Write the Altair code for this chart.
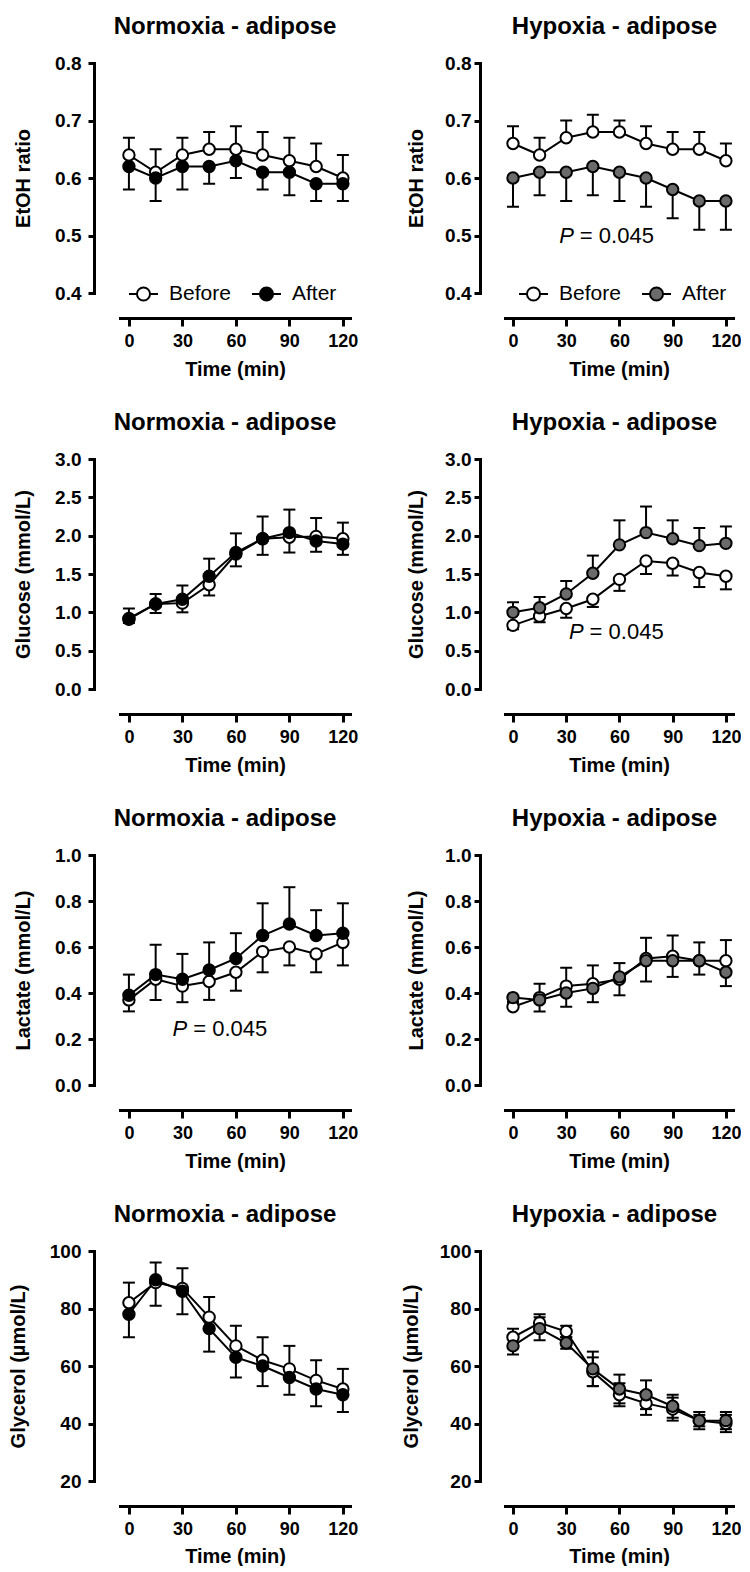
import altair as alt
import pandas as pd

TIME = [0, 15, 30, 45, 60, 75, 90, 105, 120]
X_TICKS = [0, 30, 60, 90, 120]

# ---- EtOH ratio ----
etoh_norm_before = [0.64, 0.61, 0.64, 0.65, 0.65, 0.64, 0.63, 0.62, 0.60]
etoh_norm_before_sem = [0.03, 0.04, 0.03, 0.03, 0.04, 0.04, 0.04, 0.04, 0.04]
etoh_norm_after = [0.62, 0.60, 0.62, 0.62, 0.63, 0.61, 0.61, 0.59, 0.59]
etoh_norm_after_sem = [0.04, 0.04, 0.04, 0.03, 0.03, 0.03, 0.04, 0.03, 0.03]

etoh_hyp_before = [0.66, 0.64, 0.67, 0.68, 0.68, 0.66, 0.65, 0.65, 0.63]
etoh_hyp_before_sem = [0.03, 0.03, 0.03, 0.03, 0.02, 0.03, 0.03, 0.03, 0.03]
etoh_hyp_after = [0.60, 0.61, 0.61, 0.62, 0.61, 0.60, 0.58, 0.56, 0.56]
etoh_hyp_after_sem = [0.05, 0.04, 0.05, 0.05, 0.05, 0.05, 0.05, 0.05, 0.05]

# ---- Glucose (mmol/L) ----
glu_norm_before = [0.91, 1.11, 1.12, 1.36, 1.76, 1.96, 1.98, 1.99, 1.96]
glu_norm_before_sem = [0.05, 0.12, 0.12, 0.14, 0.16, 0.21, 0.20, 0.20, 0.21]
glu_norm_after = [0.92, 1.11, 1.17, 1.47, 1.78, 1.96, 2.04, 1.93, 1.89]
glu_norm_after_sem = [0.13, 0.13, 0.18, 0.23, 0.25, 0.29, 0.30, 0.30, 0.28]

glu_hyp_before = [0.83, 0.95, 1.05, 1.17, 1.43, 1.67, 1.64, 1.52, 1.47]
glu_hyp_before_sem = [0.05, 0.08, 0.12, 0.10, 0.15, 0.17, 0.16, 0.19, 0.17]
glu_hyp_after = [1.00, 1.06, 1.24, 1.51, 1.88, 2.04, 1.96, 1.87, 1.90]
glu_hyp_after_sem = [0.13, 0.14, 0.17, 0.23, 0.32, 0.34, 0.24, 0.23, 0.22]

# ---- Lactate (mmol/L) ----
lac_norm_before = [0.37, 0.46, 0.43, 0.45, 0.49, 0.58, 0.60, 0.57, 0.62]
lac_norm_before_sem = [0.05, 0.09, 0.07, 0.08, 0.08, 0.09, 0.08, 0.08, 0.10]
lac_norm_after = [0.39, 0.48, 0.46, 0.50, 0.55, 0.65, 0.70, 0.65, 0.66]
lac_norm_after_sem = [0.09, 0.13, 0.11, 0.12, 0.11, 0.14, 0.16, 0.11, 0.13]

lac_hyp_before = [0.34, 0.38, 0.43, 0.44, 0.46, 0.55, 0.56, 0.54, 0.54]
lac_hyp_before_sem = [0.02, 0.06, 0.08, 0.08, 0.07, 0.09, 0.09, 0.08, 0.09]
lac_hyp_after = [0.38, 0.37, 0.40, 0.42, 0.47, 0.54, 0.54, 0.54, 0.49]
lac_hyp_after_sem = [0.02, 0.05, 0.06, 0.06, 0.08, 0.09, 0.07, 0.06, 0.06]

# ---- Glycerol (umol/L) ----
gly_norm_before = [82, 89, 87, 77, 67, 62, 59, 55, 52]
gly_norm_before_sem = [7, 7, 7, 7, 7, 8, 8, 7, 7]
gly_norm_after = [78, 90, 86, 73, 63, 60, 56, 52, 50]
gly_norm_after_sem = [8, 9, 8, 8, 7, 7, 6, 6, 6]

gly_hyp_before = [70, 75, 72, 58, 50, 47, 45, 41, 40]
gly_hyp_before_sem = [3, 3, 2, 5, 4, 4, 4, 3, 3]
gly_hyp_after = [67, 73, 68, 59, 52, 50, 46, 41, 41]
gly_hyp_after_sem = [3, 4, 2, 6, 5, 5, 4, 2, 3]

P_LABEL = "= 0.045"

FONT = "Liberation Sans"
GRAY = "#6b6b6b"
GW = 220          # group width used for grid layout
H = 230
LEG_PATH = ("M-1,0L-0.45,0M0.45,0L1,0"
            "M-0.45,0A0.45,0.45,0,1,1,0.45,0A0.45,0.45,0,1,1,-0.45,0Z")


def panel(title, ytitle, before, bsem, bdir, after, asem, adir, after_color,
          ydomain, yticks, yfmt, right, legend=False, ptext=None, xtp=9):
    rows, tips = [], []
    for g, vals, sem, d in [("Before", before, bsem, bdir),
                            ("After", after, asem, adir)]:
        for t, v, s in zip(TIME, vals, sem):
            lo = v - s if d in ("down", "both") else v
            hi = v + s if d in ("up", "both") else v
            rows.append(dict(time=t, value=v, lo=lo, hi=hi, group=g))
            if d in ("down", "both"):
                tips.append(dict(time=t, tip=lo, group=g))
            if d in ("up", "both"):
                tips.append(dict(time=t, tip=hi, group=g))
    df = pd.DataFrame(rows)
    tdf = pd.DataFrame(tips)

    if right:
        xs = alt.Scale(domain=[-4.5, 124], range=[0, 228], nice=False, zero=False)
        yoff, tdx, ylp, ytp, lx = 25, -0.5, 3, 18, 13
    else:
        xs = alt.Scale(domain=[-5, 124], range=[0, 230], nice=False, zero=False)
        yoff, tdx, ylp, ytp, lx = 26, -5, 7, 21, 8
    xax = alt.Axis(values=X_TICKS, title="Time (min)", offset=25, tickSize=8,
                   labelFlush=False, labelPadding=6, titlePadding=xtp,
                   labelFontSize=18, grid=False)
    yax = alt.Axis(values=yticks, format=yfmt, title=ytitle, offset=yoff,
                   tickSize=6, labelPadding=ylp, titlePadding=ytp, grid=False)
    ys = alt.Scale(domain=ydomain, nice=False, zero=False)

    def X():
        return alt.X("time:Q", scale=xs, axis=xax)

    def Y(f):
        return alt.Y(f"{f}:Q", scale=ys, axis=yax)

    rules = alt.Chart(df).mark_rule(color="black", strokeWidth=2).encode(
        x=X(), y=Y("lo"), y2="hi:Q")
    caps = alt.Chart(tdf).mark_tick(color="black", orient="horizontal",
                                    size=12, thickness=2, opacity=1).encode(
        x=X(), y=Y("tip"))
    lines = alt.Chart(df).mark_line(color="black", strokeWidth=2).encode(
        x=X(), y=Y("value"), detail="group:N")
    if legend:
        leg = alt.Legend(orient="none", legendX=lx, legendY=H - 15,
                         direction="horizontal", title=None,
                         symbolType=LEG_PATH, symbolSize=841,
                         symbolStrokeColor="black", symbolStrokeWidth=2,
                         symbolOpacity=1, labelFont=FONT, labelFontSize=21,
                         labelFontWeight="normal", labelColor="black",
                         labelOffset=10, columnPadding=17, padding=0)
    else:
        leg = None
    pts = alt.Chart(df).mark_point(filled=True, shape="circle", size=130,
                                   stroke="black", strokeWidth=2,
                                   opacity=1).encode(
        x=X(), y=Y("value"),
        fill=alt.Fill("group:N",
                      scale=alt.Scale(domain=["Before", "After"],
                                      range=["white", after_color]),
                      legend=leg))
    layers = [rules, caps, lines, pts]
    if ptext is not None:
        pdf = pd.DataFrame([dict(time=ptext[0], value=ptext[1], lab=P_LABEL)])
        tp = alt.Chart(pdf).mark_text(text="P", fontStyle="italic",
                                      font=FONT, fontSize=22, align="right",
                                      baseline="middle", dx=-3,
                                      color="black").encode(
            x=X(), y=Y("value"))
        tv = alt.Chart(pdf).mark_text(font=FONT, fontSize=22, align="left",
                                      baseline="middle", dx=3,
                                      color="black").encode(
            x=X(), y=Y("value"), text="lab:N")
        layers += [tp, tv]
    return alt.layer(*layers).properties(
        width=GW, height=H,
        title=alt.TitleParams(title, font=FONT, fontSize=24, fontWeight="bold",
                              anchor="middle", dx=tdx, offset=15,
                              color="black"))


NT = "Normoxia - adipose"
HT = "Hypoxia - adipose"
E_T = [0.4, 0.5, 0.6, 0.7, 0.8]
G_T = [0.0, 0.5, 1.0, 1.5, 2.0, 2.5, 3.0]
L_T = [0.0, 0.2, 0.4, 0.6, 0.8, 1.0]
Y_T = [20, 40, 60, 80, 100]

panels = [
    panel(NT, "EtOH ratio", etoh_norm_before, etoh_norm_before_sem, "up",
          etoh_norm_after, etoh_norm_after_sem, "down", "black",
          [0.4, 0.8], E_T, ".1f", False, legend=True),
    panel(HT, "EtOH ratio", etoh_hyp_before, etoh_hyp_before_sem, "up",
          etoh_hyp_after, etoh_hyp_after_sem, "down", GRAY,
          [0.4, 0.8], E_T, ".1f", True, legend=True, ptext=(36, 0.50)),
    panel(NT, "Glucose (mmol/L)", glu_norm_before, glu_norm_before_sem, "down",
          glu_norm_after, glu_norm_after_sem, "up", "black",
          [0.0, 3.0], G_T, ".1f", False),
    panel(HT, "Glucose (mmol/L)", glu_hyp_before, glu_hyp_before_sem, "down",
          glu_hyp_after, glu_hyp_after_sem, "up", GRAY,
          [0.0, 3.0], G_T, ".1f", True, ptext=(41.5, 0.74)),
    panel(NT, "Lactate (mmol/L)", lac_norm_before, lac_norm_before_sem, "down",
          lac_norm_after, lac_norm_after_sem, "up", "black",
          [0.0, 1.0], L_T, ".1f", False, ptext=(34.4, 0.245)),
    panel(HT, "Lactate (mmol/L)", lac_hyp_before, lac_hyp_before_sem, "up",
          lac_hyp_after, lac_hyp_after_sem, "down", GRAY,
          [0.0, 1.0], L_T, ".1f", True),
    panel(NT, "Glycerol (µmol/L)", gly_norm_before, gly_norm_before_sem, "up",
          gly_norm_after, gly_norm_after_sem, "down", "black",
          [20, 100], Y_T, "d", False, xtp=8),
    panel(HT, "Glycerol (µmol/L)", gly_hyp_before, gly_hyp_before_sem, "both",
          gly_hyp_after, gly_hyp_after_sem, "both", GRAY,
          [20, 100], Y_T, "d", True, xtp=8),
]

chart = alt.concat(*panels, columns=2, spacing={"row": 166, "column": 165},
                   bounds="flush").resolve_scale(
    x="independent", y="independent", fill="independent"
).properties(padding={"left": 0, "top": 7, "right": 0, "bottom": 0}).configure(
    font=FONT
).configure_view(stroke=None).configure_axis(
    domainColor="black", domainWidth=3, tickColor="black", tickWidth=3,
    labelFont=FONT, labelFontSize=19, labelFontWeight="bold",
    labelColor="black", titleFont=FONT, titleFontSize=20,
    titleFontWeight="bold", titleColor="black", domainCap="square"
)

chart.save("out.html", embed_options={"renderer": "svg", "actions": False})
